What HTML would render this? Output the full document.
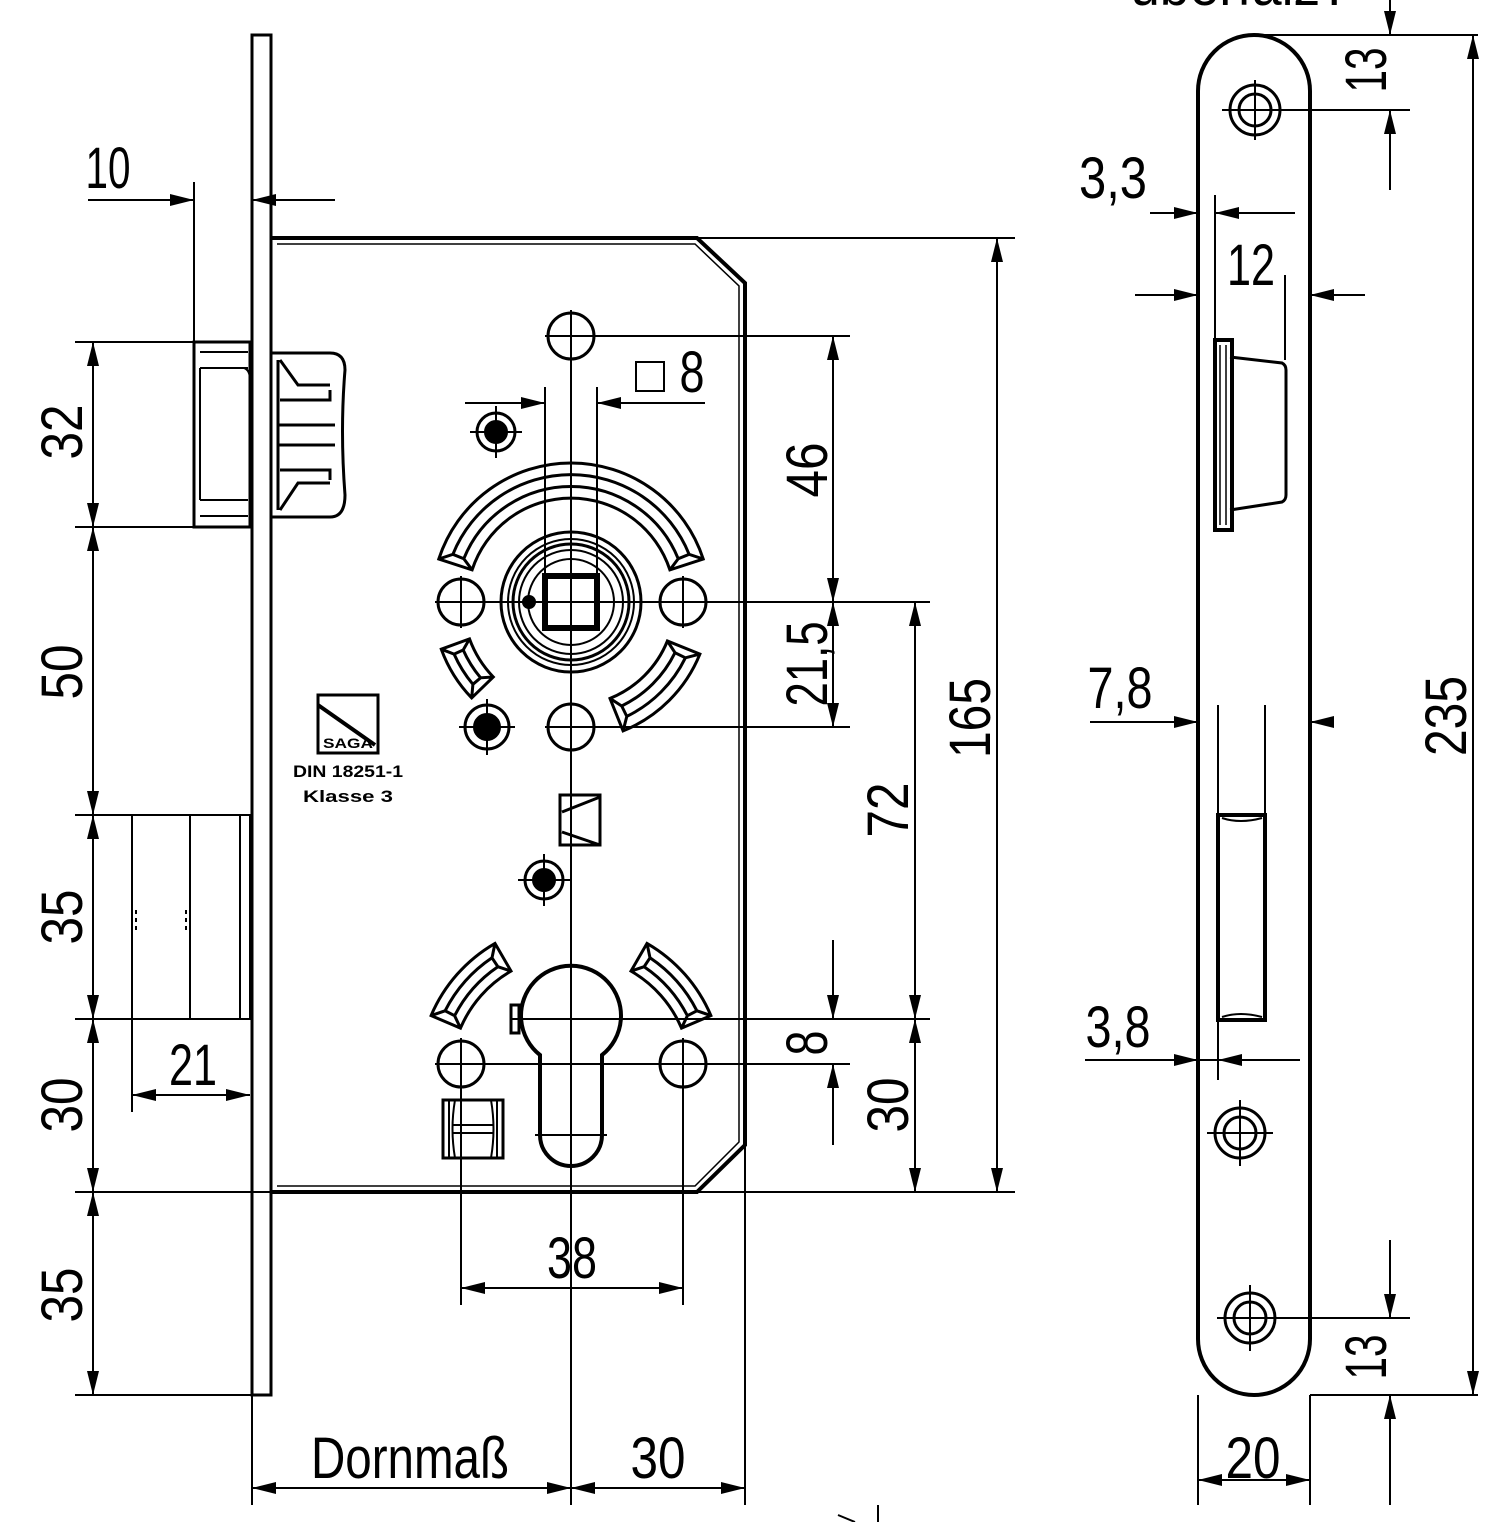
<!DOCTYPE html>
<html><head><meta charset="utf-8"><style>
html,body{margin:0;padding:0;background:#fff}
svg{display:block}
text{font-family:"Liberation Sans",sans-serif;fill:#000}
</style></head><body>
<svg id="s" width="1508" height="1522" viewBox="0 0 1508 1522" xmlns="http://www.w3.org/2000/svg">
<defs>
<marker id="a" viewBox="0 0 24 12" refX="24" refY="6" markerWidth="24" markerHeight="12" markerUnits="userSpaceOnUse" orient="auto-start-reverse"><path d="M0,0 L24,6 L0,12 Z" fill="#000"/></marker>
</defs>
<g fill="none" stroke="#000" stroke-width="2">
<rect x="252" y="35" width="19" height="1360" stroke-width="3"/>
<path d="M271,238 L697,238 L745,283 L745,1145 L697,1192 L271,1192" stroke-width="4"/>
<path d="M277,244 L695,244 L739,286 L739,1142 L695,1186 L277,1186" stroke-width="1.5"/>
<rect x="194" y="342" width="56" height="185" stroke-width="3"/>
<path d="M200,352 L248,352 M200,368 L248,368 M200,500 L248,500 M200,516 L248,516 M200,368 L200,500"/>
<path d="M244,368 Q250,370 250,380 L250,500" />
<path d="M271,353 L330,353 Q345,353 345,370 Q340,430 345,495 Q345,517 330,517 L271,517" stroke-width="3"/>
<path d="M278,360 L278,510 M280,360 L298,385 L330,385 M280,510 L298,483 L330,483 M280,400 L330,400 L330,390 M280,470 L330,470 L330,480 M278,425 L335,425 M278,445 L335,445" stroke-width="3"/>
<rect x="132" y="815" width="118" height="204" stroke-width="2"/>
<path d="M190,815 L190,1019 M240,815 L240,1019" stroke-width="2"/>
<path d="M136,910 L136,930 M186,910 L186,930" stroke-dasharray="4 4"/>
<path d="M75,342 L250,342 M75,527 L194,527 M75,815 L132,815 M75,1019 L252,1019 M75,1192 L271,1192 M75,1395 L252,1395"/>
<line x1="93" y1="435" x2="93" y2="342" marker-end="url(#a)"/><line x1="93" y1="435" x2="93" y2="527" marker-end="url(#a)"/>
<line x1="93" y1="670" x2="93" y2="527" marker-end="url(#a)"/><line x1="93" y1="670" x2="93" y2="815" marker-end="url(#a)"/>
<line x1="93" y1="917" x2="93" y2="815" marker-end="url(#a)"/><line x1="93" y1="917" x2="93" y2="1019" marker-end="url(#a)"/>
<line x1="93" y1="1105" x2="93" y2="1019" marker-end="url(#a)"/><line x1="93" y1="1105" x2="93" y2="1192" marker-end="url(#a)"/>
<line x1="93" y1="1295" x2="93" y2="1192" marker-end="url(#a)"/><line x1="93" y1="1295" x2="93" y2="1395" marker-end="url(#a)"/>
<path d="M194,182 L194,342"/>
<line x1="88" y1="200" x2="194" y2="200" marker-end="url(#a)"/>
<line x1="335" y1="200" x2="252" y2="200" marker-end="url(#a)"/>
<path d="M132,1019 L132,1112"/>
<line x1="190" y1="1095" x2="132" y2="1095" marker-end="url(#a)"/><line x1="190" y1="1095" x2="250" y2="1095" marker-end="url(#a)"/>
<g stroke-width="3">
<circle cx="571" cy="336" r="23"/><circle cx="461" cy="602" r="23"/><circle cx="683" cy="602" r="23"/>
<circle cx="571" cy="727" r="23"/><circle cx="461" cy="1064" r="23"/><circle cx="683" cy="1064" r="23"/>
</g>
<g stroke-width="3">
<circle cx="571" cy="602" r="70"/><circle cx="571" cy="602" r="63" stroke-width="2"/><circle cx="571" cy="602" r="58"/><circle cx="571" cy="602" r="52" stroke-width="2"/>
<circle cx="571" cy="602" r="43" stroke-width="2"/>
<rect x="545" y="576" width="52" height="52" stroke-width="6"/>
</g>
<circle cx="529" cy="602" r="6" fill="#000"/>
<g stroke-width="3"><circle cx="496" cy="432" r="19"/><circle cx="487" cy="727" r="22"/><circle cx="544" cy="880" r="19"/></g>
<circle cx="496" cy="432" r="11" fill="#000"/><circle cx="487" cy="727" r="13" fill="#000"/><circle cx="544" cy="880" r="11" fill="#000"/>
<path d="M470,432 L522,432 M496,406 L496,458 M459,727 L515,727 M487,699 L487,755 M518,880 L570,880 M544,854 L544,906"/>
<path d="M571,310 L571,1505 M435,602 L930,602 M545,727 L850,727 M435,1064 L850,1064 M461,576 L461,628 M683,576 L683,628 M461,1038 L461,1305 M683,1038 L683,1305 M510,1019 L930,1019 M571,310 L571,362 M545,336 L850,336"/>
<rect x="636" y="362" width="28" height="29"/>
<path d="M545,387 L545,590 M597,387 L597,590"/>
<line x1="465" y1="403" x2="545" y2="403" marker-end="url(#a)"/>
<line x1="705" y1="403" x2="597" y2="403" marker-end="url(#a)"/>
<rect x="560" y="795" width="40" height="50" stroke-width="3"/>
<path d="M600,797 L562,812 M562,832 L600,845" stroke-width="3"/>
<path d="M540,1055 A50,50 0 1 1 602,1055 L602,1135 A31,31 0 0 1 540,1135 Z" stroke-width="4"/>
<rect x="511" y="1005" width="8" height="28" stroke-width="3"/>
<path d="M535,1135 L607,1135"/>
<rect x="443" y="1100" width="60" height="58" stroke-width="3"/>
<path d="M449,1100 L449,1158 M497,1100 L497,1158 M455,1100 Q450,1129 455,1158 M491,1100 Q496,1129 491,1158 M453,1125 L493,1125 M453,1133 L493,1133" stroke-width="2"/>
<rect x="318" y="695" width="60" height="58" stroke-width="3"/>
<path d="M318,705 L375,745" stroke-width="4"/>
<path d="M697,238 L1015,238 M697,1192 L1015,1192"/>
<path d="M745,1145 L745,1505 M252,1395 L252,1505"/>
<line x1="997" y1="718" x2="997" y2="238" marker-end="url(#a)"/><line x1="997" y1="718" x2="997" y2="1192" marker-end="url(#a)"/>
<line x1="833" y1="470" x2="833" y2="336" marker-end="url(#a)"/><line x1="833" y1="470" x2="833" y2="602" marker-end="url(#a)"/>
<line x1="833" y1="664" x2="833" y2="602" marker-end="url(#a)"/><line x1="833" y1="664" x2="833" y2="727" marker-end="url(#a)"/>
<line x1="915" y1="810" x2="915" y2="602" marker-end="url(#a)"/><line x1="915" y1="810" x2="915" y2="1019" marker-end="url(#a)"/>
<line x1="915" y1="1105" x2="915" y2="1019" marker-end="url(#a)"/><line x1="915" y1="1105" x2="915" y2="1192" marker-end="url(#a)"/>
<line x1="833" y1="940" x2="833" y2="1019" marker-end="url(#a)"/><line x1="833" y1="1145" x2="833" y2="1064" marker-end="url(#a)"/>
<line x1="571" y1="1288" x2="461" y2="1288" marker-end="url(#a)"/><line x1="571" y1="1288" x2="683" y2="1288" marker-end="url(#a)"/>
<line x1="410" y1="1488" x2="252" y2="1488" marker-end="url(#a)"/><line x1="410" y1="1488" x2="571" y2="1488" marker-end="url(#a)"/>
<line x1="658" y1="1488" x2="571" y2="1488" marker-end="url(#a)"/><line x1="658" y1="1488" x2="745" y2="1488" marker-end="url(#a)"/>
<g id="bands" stroke-width="3"></g>

<path d="M1198,91 A56,56 0 0 1 1310,91 L1310,1339 A56,56 0 0 1 1198,1339 Z" stroke-width="4"/>
<g stroke-width="3"><circle cx="1255" cy="110" r="25"/><circle cx="1255" cy="110" r="16"/>
<circle cx="1240" cy="1133" r="25"/><circle cx="1240" cy="1133" r="16"/>
<circle cx="1250" cy="1318" r="25"/><circle cx="1250" cy="1318" r="16"/></g>
<path d="M1222,110 L1410,110 M1255,80 L1255,140 M1207,1133 L1273,1133 M1240,1100 L1240,1166 M1217,1318 L1410,1318 M1250,1285 L1250,1351"/>
<path d="M1255,35 L1478,35 M1310,1395 L1478,1395"/>
<line x1="1390" y1="0" x2="1390" y2="35" marker-end="url(#a)"/>
<line x1="1390" y1="190" x2="1390" y2="110" marker-end="url(#a)"/>
<line x1="1390" y1="1240" x2="1390" y2="1318" marker-end="url(#a)"/>
<line x1="1390" y1="1505" x2="1390" y2="1395" marker-end="url(#a)"/>
<line x1="1473" y1="716" x2="1473" y2="35" marker-end="url(#a)"/><line x1="1473" y1="716" x2="1473" y2="1395" marker-end="url(#a)"/>
<path d="M1215,195 L1215,340"/>
<line x1="1150" y1="213" x2="1198" y2="213" marker-end="url(#a)"/><line x1="1295" y1="213" x2="1215" y2="213" marker-end="url(#a)"/>
<path d="M1285,275 L1285,360"/>
<line x1="1135" y1="295" x2="1198" y2="295" marker-end="url(#a)"/><line x1="1365" y1="295" x2="1310" y2="295" marker-end="url(#a)"/>
<rect x="1215" y="340" width="17" height="190" stroke-width="4"/>
<path d="M1220,345 L1220,525 M1226,345 L1226,525" stroke-width="1.5"/>
<path d="M1230,357 L1282,363 Q1286,365 1286,370 L1286,495 Q1286,500 1282,502 L1230,510" stroke-width="3"/>
<path d="M1218,705 L1218,815 M1265,705 L1265,815"/>
<line x1="1090" y1="722" x2="1198" y2="722" marker-end="url(#a)"/><line x1="1330" y1="722" x2="1310" y2="722" marker-end="url(#a)"/>
<rect x="1218" y="815" width="47" height="205" stroke-width="4"/>
<path d="M1222,818 Q1240,824 1262,818 M1222,1017 Q1240,1011 1262,1017"/>
<path d="M1218,1020 L1218,1080 M1198,1060 L1300,1060"/>
<line x1="1085" y1="1060" x2="1198" y2="1060" marker-end="url(#a)"/><line x1="1300" y1="1060" x2="1218" y2="1060" marker-end="url(#a)"/>
<path d="M1198,1395 L1198,1505 M1310,1395 L1310,1505"/>
<line x1="1253" y1="1480" x2="1198" y2="1480" marker-end="url(#a)"/><line x1="1253" y1="1480" x2="1310" y2="1480" marker-end="url(#a)"/>
<path d="M878,1505 L878,1522 M838,1515 L855,1522"/>
</g>

<g font-size="58">
<text x="108" y="188" text-anchor="middle" textLength="45" lengthAdjust="spacingAndGlyphs">10</text>
<text x="1113" y="198" text-anchor="middle" textLength="68" lengthAdjust="spacingAndGlyphs">3,3</text>
<text x="1251" y="285" text-anchor="middle" textLength="48" lengthAdjust="spacingAndGlyphs">12</text>
<text x="692" y="392" text-anchor="middle" textLength="25" lengthAdjust="spacingAndGlyphs">8</text>
<text x="1120" y="708" text-anchor="middle" textLength="65" lengthAdjust="spacingAndGlyphs">7,8</text>
<text x="1118" y="1047" text-anchor="middle" textLength="65" lengthAdjust="spacingAndGlyphs">3,8</text>
<text x="193" y="1085" text-anchor="middle" textLength="48" lengthAdjust="spacingAndGlyphs">21</text>
<text x="572" y="1278" text-anchor="middle" textLength="50" lengthAdjust="spacingAndGlyphs">38</text>
<text x="410" y="1478" text-anchor="middle" textLength="198" lengthAdjust="spacingAndGlyphs">Dornmaß</text>
<text x="658" y="1478" text-anchor="middle" textLength="55" lengthAdjust="spacingAndGlyphs">30</text>
<text x="1253" y="1478" text-anchor="middle" textLength="55" lengthAdjust="spacingAndGlyphs">20</text>
<text x="1240" y="5" text-anchor="middle" textLength="220" lengthAdjust="spacingAndGlyphs">überfalz?</text>
<text transform="translate(82,432) rotate(-90)" text-anchor="middle" textLength="55" lengthAdjust="spacingAndGlyphs">32</text>
<text transform="translate(82,672) rotate(-90)" text-anchor="middle" textLength="55" lengthAdjust="spacingAndGlyphs">50</text>
<text transform="translate(82,917) rotate(-90)" text-anchor="middle" textLength="55" lengthAdjust="spacingAndGlyphs">35</text>
<text transform="translate(82,1105) rotate(-90)" text-anchor="middle" textLength="55" lengthAdjust="spacingAndGlyphs">30</text>
<text transform="translate(82,1295) rotate(-90)" text-anchor="middle" textLength="55" lengthAdjust="spacingAndGlyphs">35</text>
<text transform="translate(827,470) rotate(-90)" text-anchor="middle" textLength="55" lengthAdjust="spacingAndGlyphs">46</text>
<text transform="translate(827,664) rotate(-90)" text-anchor="middle" textLength="85" lengthAdjust="spacingAndGlyphs">21,5</text>
<text transform="translate(908,810) rotate(-90)" text-anchor="middle" textLength="55" lengthAdjust="spacingAndGlyphs">72</text>
<text transform="translate(827,1043) rotate(-90)" text-anchor="middle" textLength="25" lengthAdjust="spacingAndGlyphs">8</text>
<text transform="translate(908,1105) rotate(-90)" text-anchor="middle" textLength="55" lengthAdjust="spacingAndGlyphs">30</text>
<text transform="translate(990,718) rotate(-90)" text-anchor="middle" textLength="80" lengthAdjust="spacingAndGlyphs">165</text>
<text transform="translate(1466,716) rotate(-90)" text-anchor="middle" textLength="80" lengthAdjust="spacingAndGlyphs">235</text>
<text transform="translate(1386,70) rotate(-90)" text-anchor="middle" textLength="45" lengthAdjust="spacingAndGlyphs">13</text>
<text transform="translate(1386,1357) rotate(-90)" text-anchor="middle" textLength="45" lengthAdjust="spacingAndGlyphs">13</text>
</g>
<g font-size="17" font-weight="bold">
<text x="348" y="777" text-anchor="middle" textLength="110" lengthAdjust="spacingAndGlyphs">DIN 18251-1</text>
<text x="348" y="802" text-anchor="middle" textLength="90" lengthAdjust="spacingAndGlyphs">Klasse 3</text>
<text x="348" y="748" text-anchor="middle" font-size="14" textLength="50" lengthAdjust="spacingAndGlyphs">SAGA</text>
</g>
</svg>
<script>
(function(){
var g=document.getElementById('bands');
function P(cx,cy,r,a){a=a*Math.PI/180;return (cx+r*Math.cos(a)).toFixed(1)+','+(cy+r*Math.sin(a)).toFixed(1);}
function band(cx,cy,r1,r2,a,b){
 var big=(b-a)>180?1:0,d='M'+P(cx,cy,r2,a)+' A'+r2+','+r2+' 0 '+big+' 1 '+P(cx,cy,r2,b)+' L'+P(cx,cy,r1,b)+' A'+r1+','+r1+' 0 '+big+' 0 '+P(cx,cy,r1,a)+' Z';
 var rm1=r1+(r2-r1)/3,rm2=r1+2*(r2-r1)/3,e=4;
 d+=' M'+P(cx,cy,rm1,a+e)+' A'+rm1+','+rm1+' 0 '+big+' 1 '+P(cx,cy,rm1,b-e);
 d+=' M'+P(cx,cy,rm2,a+e)+' A'+rm2+','+rm2+' 0 '+big+' 1 '+P(cx,cy,rm2,b-e);
 d+=' M'+P(cx,cy,r2,a)+' L'+P(cx,cy,rm2,a+e)+' L'+P(cx,cy,rm1,a+e)+' L'+P(cx,cy,r1,a);
 d+=' M'+P(cx,cy,r2,b)+' L'+P(cx,cy,rm2,b-e)+' L'+P(cx,cy,rm1,b-e)+' L'+P(cx,cy,r1,b);
 var p=document.createElementNS('http://www.w3.org/2000/svg','path');p.setAttribute('d',d);g.appendChild(p);
}
band(571,602,104,139,198,342);
band(571,602,104,139,22,68);
band(571,602,108,138,136,160);
band(571,1075,120,152,203,240);
band(571,1075,120,152,300,337);
})();
</script>
</body></html>
